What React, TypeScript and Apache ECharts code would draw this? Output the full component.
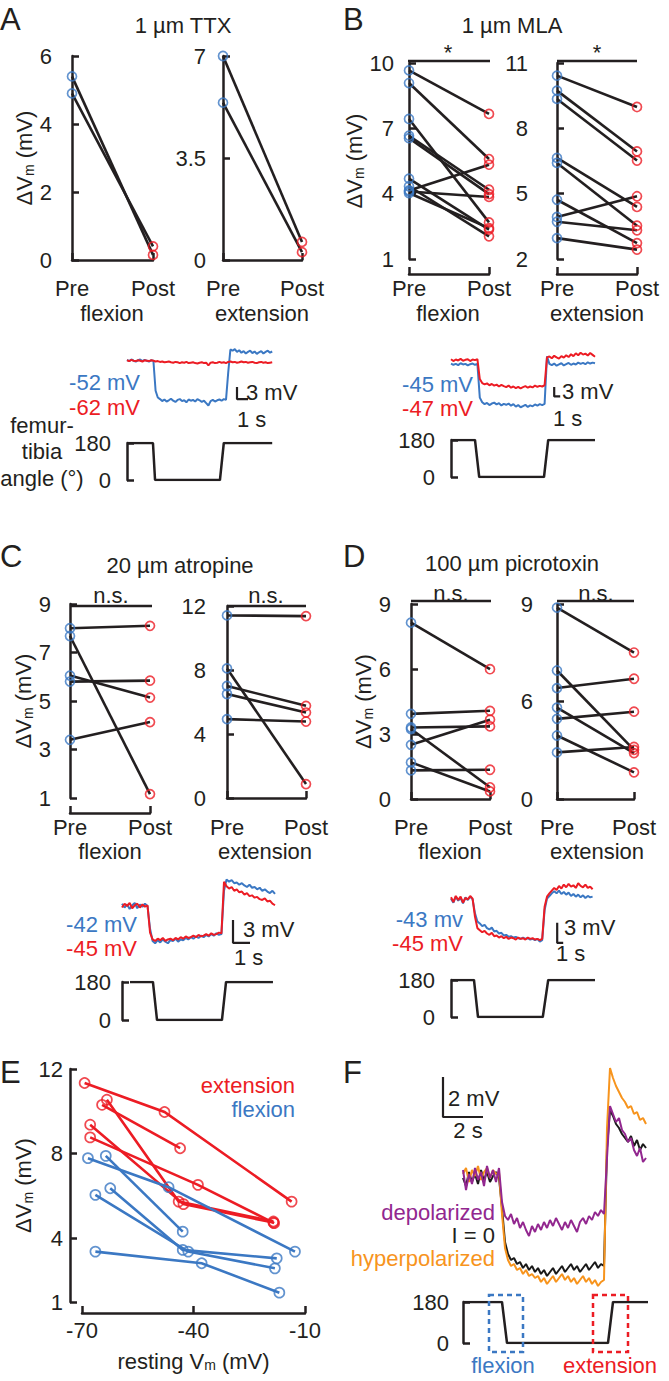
import React, { useEffect, useRef } from 'react';
import * as echarts from 'echarts';

const FONT = "'Liberation Sans', Arial, Helvetica, sans-serif";
const FS = 22;
const INK = '#231f20';
const BLUE = '#3b78c3';
const RED = '#ec1c24';
const PURPLE = '#92278f';
const ORANGE = '#f7941d';

// ---------- paired plots ----------
const pairCats = ['Pre', 'Post'];
// A: 1 µm TTX
const ttxFlexPre = [5.4, 4.9];
const ttxFlexPost = [0.15, 0.4];
const ttxExtPre = [7.0, 5.4];
const ttxExtPost = [0.62, 0.27];
// B: 1 µm MLA
const mlaFlexPre = [9.66, 9.08, 7.43, 6.66, 6.55, 4.69, 4.34, 4.15, 4.10, 4.03];
const mlaFlexPost = [7.66, 5.59, 2.68, 4.18, 3.98, 2.35, 2.04, 5.33, 3.85, 2.42];
const mlaExtPre = [10.42, 9.73, 9.35, 6.64, 6.41, 4.72, 3.93, 3.71, 2.96];
const mlaExtPost = [8.98, 6.94, 6.52, 4.39, 3.53, 2.73, 4.88, 3.32, 2.43];
// C: 20 µm atropine
const atrFlexPre = [8.0, 7.68, 6.05, 5.80, 3.40];
const atrFlexPost = [8.1, 1.16, 5.14, 5.84, 4.13];
const atrExtPre = [11.41, 8.1, 7.0, 6.5, 4.93];
const atrExtPost = [11.37, 0.87, 5.76, 5.34, 4.78];
// D: 100 µm picrotoxin
const picFlexPre = [8.14, 3.93, 3.30, 3.23, 2.5, 1.69, 1.32];
const picFlexPost = [5.99, 4.07, 3.35, 0.54, 3.66, 0.35, 1.35];
const picExtPre = [8.83, 5.93, 5.12, 4.22, 3.70, 2.93, 2.15];
const picExtPost = [6.76, 2.27, 5.55, 2.12, 4.03, 1.23, 2.40];
const picExtTicks = [0, 4.5, 9];
const picExtTickLabels = ['0', '6', '9'];

// ---------- voltage traces (mV relative to rest, sampled every dt s) ----------
const dtA = 0.2;
const ttxBlue = [0.2,-0.1,0.3,0.0,-0.2,0.1,0.3,-0.1,0.2,0.0,-0.2,0.1,0.0,
  -7.5,-9.2,
  -9.6,-10.1,-9.7,-10.2,-9.9,-9.5,-10.0,-10.3,-9.8,-9.6,-10.1,-9.9,-10.4,-9.7,-10.0,-9.8,-10.2,-9.6,-9.9,-10.3,-10.0,-10.6,-11.2,-10.1,-9.8,-10.2,-9.9,-9.7,-10.0,-9.6,-9.8,
  -3.0,2.8,
  2.5,2.9,2.2,2.6,2.0,2.4,1.8,2.2,2.5,1.9,2.3,1.7,2.1,2.4,1.8,2.2,2.5,2.0,2.3];
const ttxRed = [0.1,-0.1,0.2,0.0,-0.1,0.1,0.0,-0.2,0.1,0.0,-0.1,0.1,0.0,
  -0.2,-0.1,-0.3,-0.2,-0.4,-0.3,-0.2,-0.4,-0.5,-0.3,-0.4,-0.6,-0.4,-0.5,-0.3,-0.6,-0.5,-0.4,-0.6,-0.7,-0.5,-0.4,-0.6,-0.5,-1.2,-0.5,-0.4,-0.6,-0.5,-0.3,-0.5,-0.4,-0.6,
  -0.3,-0.2,-0.4,-0.3,-0.5,-0.4,-0.2,-0.4,-0.3,-0.5,-0.4,-0.3,-0.5,-0.6,-0.4,-0.3,-0.5,-0.4,-0.6,-0.5,-0.4];
const dtB = 0.4;
const mlaRed = [0.9,0.3,0.8,0.5,1.0,0.4,0.7,0.9,0.3,0.8,0.6,0.9,
  -5.5,
  -6.8,-7.2,-6.9,-7.5,-7.1,-7.6,-7.3,-7.9,-7.4,-7.8,-8.1,-7.6,-8.3,-7.9,-8.4,-8.0,-8.5,-8.1,-7.8,-8.3,-7.9,-8.2,-7.6,-8.0,-7.7,-7.9,-7.5,
  1.5,
  1.8,1.2,2.0,1.5,1.1,1.9,1.4,2.2,1.6,2.5,1.9,2.8,2.2,3.0,2.4,2.7,2.1,2.9,2.3,1.7];
const mlaBlue = [-0.5,-0.9,-0.6,-1.0,-0.4,-0.8,-0.6,-1.1,-0.7,-0.5,-0.9,-0.6,
  -11.5,
  -13.0,-13.6,-13.2,-13.9,-13.4,-13.1,-13.7,-13.3,-14.0,-13.5,-13.8,-13.4,-14.1,-13.6,-14.4,-13.9,-14.6,-14.2,-13.8,-14.5,-14.0,-14.3,-13.7,-14.1,-13.6,-13.9,-13.5,
  1.8,
  -0.6,-1.0,-0.5,-1.2,-0.8,-0.4,-1.1,-0.7,-0.3,-0.9,-0.5,-0.8,-0.2,-0.6,-0.3,-0.7,-0.1,-0.5,-0.2,-0.4];
const dtC = 0.15;
const atrBlue = [0.3,-0.2,0.2,-0.4,0.1,0.4,-0.3,0.2,-0.1,0.3,0.0,
  -3.0,
  -4.6,-4.9,-4.5,-4.8,-4.4,-4.7,-4.9,-4.5,-4.6,-4.3,-4.7,-4.4,-4.5,-4.2,-4.4,-4.1,-4.3,-4.0,-4.2,-3.9,-4.1,-3.8,-4.0,-3.7,-3.9,-3.6,-3.8,-3.7,
  2.0,
  3.5,3.2,3.4,3.0,3.1,2.8,3.0,2.7,2.5,2.8,2.4,2.5,2.2,2.4,2.0,2.2,1.9,1.7,2.0,1.6];
const atrRed = [-0.2,0.3,0.0,0.4,-0.3,0.1,0.3,-0.2,0.2,-0.1,0.1,
  -3.5,
  -4.4,-4.6,-4.3,-4.5,-4.2,-4.6,-4.4,-4.3,-4.5,-4.2,-4.4,-4.1,-4.3,-4.0,-4.2,-4.1,-3.9,-4.1,-3.8,-4.0,-3.9,-3.7,-3.9,-3.6,-3.8,-3.7,-3.5,-3.6,
  3.2,
  2.6,2.3,2.5,2.0,2.2,1.8,1.9,1.5,1.7,1.3,1.4,1.1,1.2,0.9,0.8,1.0,0.6,0.7,0.3,0.1];
const dtD = 0.4;
const picRed = [0.4,-0.3,0.6,0.0,0.5,-0.4,0.3,0.1,0.6,0.2,
  -2.5,
  -4.2,-4.5,-4.8,-4.6,-5.0,-5.2,-4.9,-5.4,-5.3,-5.6,-5.4,-5.7,-5.5,-5.8,-5.6,-5.7,-5.9,-5.6,-5.8,-5.7,-5.9,-5.6,-5.8,-5.7,-5.9,-5.8,-6.0,-5.8,
  -1.0,
  0.5,1.0,1.4,1.8,1.5,2.1,1.7,2.3,1.9,2.4,2.0,2.2,1.8,2.5,2.1,1.9,2.3,1.8,2.0,1.6];
const picBlue = [0.2,-0.4,0.5,-0.1,0.3,-0.5,0.4,0.0,0.5,0.1,
  -2.0,
  -3.2,-3.5,-3.9,-3.7,-4.2,-4.4,-4.1,-4.7,-4.6,-5.0,-4.9,-5.3,-5.2,-5.5,-5.4,-5.6,-5.5,-5.7,-5.8,-5.6,-5.8,-5.7,-5.9,-5.8,-6.0,-5.8,-6.2,-6.0,
  -1.5,
  0.2,0.6,1.0,1.3,1.0,1.4,0.9,1.2,0.8,1.1,0.6,0.9,0.5,0.8,0.4,0.7,0.3,0.6,0.4,0.5];
const dtF = 0.15;
const fPurple = [0.4,-0.6,0.2,-0.3,0.5,-0.1,0.3,-0.4,0.6,0.0,0.4,-0.2,0.5,
  -1.2,
  -1.9,-2.1,-1.8,-2.3,-2.0,-2.5,-2.2,-2.6,-2.9,-2.4,-2.7,-2.3,-2.6,-2.2,-2.5,-2.1,-2.4,-2.0,-2.3,-2.6,-2.2,-2.5,-2.1,-2.4,-2.7,-2.2,-2.0,-2.3,-1.9,-2.1,-1.7,-1.9,-1.6,-1.8,
  1.0,
  3.6,3.2,2.8,3.0,2.4,2.2,1.8,2.0,1.4,1.1,1.5,0.8,1.0];
const fBlack = [0.0,-0.4,0.3,-0.2,0.2,-0.3,0.4,-0.1,0.3,-0.2,0.1,0.3,0.0,
  -1.5,
  -3.2,-3.8,-4.1,-4.0,-4.3,-4.2,-4.5,-4.3,-4.6,-4.4,-4.7,-4.5,-4.8,-4.6,-4.9,-4.7,-4.5,-4.8,-4.6,-4.4,-4.7,-4.5,-4.3,-4.6,-4.4,-4.7,-4.5,-4.3,-4.6,-4.4,-4.2,-4.5,-4.3,-4.4,
  1.5,
  3.4,3.1,2.7,2.5,2.2,2.0,1.8,2.1,1.6,1.9,1.4,1.7,1.5];
const fOrange = [0.2,0.5,-0.2,0.4,0.1,0.6,-0.1,0.3,0.5,0.0,0.4,0.2,0.3,
  -1.8,
  -3.5,-4.1,-4.4,-4.3,-4.6,-4.5,-4.8,-4.6,-4.9,-4.8,-5.0,-4.9,-5.2,-5.0,-5.3,-5.1,-4.9,-5.2,-5.0,-4.8,-5.1,-4.9,-5.2,-5.0,-5.3,-5.1,-4.9,-5.2,-5.0,-5.3,-5.1,-5.4,-5.2,-5.1,
  2.5,
  5.5,5.0,4.6,4.3,4.0,3.8,3.5,3.6,3.2,3.3,2.9,3.0,2.7];

// femur-tibia angle (s, degrees)
const angleA = [[0.1,180],[2.36,180],[2.55,0],[8.45,0],[8.8,180],[13.2,180]];
const angleB = [[0.2,180],[4.0,180],[4.7,0],[15.5,0],[16.2,180],[24,180]];
const angleC = [[0.47,180],[1.82,180],[2.06,0],[5.88,0],[6.12,180],[8.88,180]];
const angleD = [[0.2,180],[3.83,180],[4.5,0],[15.3,0],[16.2,180],[24,180]];
const angleF = [[0,180],[1.95,180],[2.2,0],[7.25,0],[7.5,180],[9.25,180]];
const angleTicks = ['0', '180'];

// ---------- E: ΔVm vs resting Vm ----------
const extRestVm = [[-69.3,-47.8,-13.6],[-64.6,-43.6],[-63.3,-44.0,-18.5],[-67.8,-42.7,-18.5],[-67.8,-38.8,-18.3]];
const extDeltaVm = [[11.34,9.97,5.74],[10.31,8.26],[10.55,5.74,4.80],[9.37,5.62,4.75],[8.77,6.53,4.72]];
const flexRestVm = [[-68.4,-46.7,-12.7],[-63.6,-42.9],[-62.4,-42.9,-17.6],[-66.4,-41.4,-18.1],[-66.4,-37.8,-16.9]];
const flexDeltaVm = [[7.79,6.42,3.38],[7.90,4.32],[6.37,3.46,3.06],[6.06,3.38,2.59],[3.38,2.83,1.44]];
const eYTicks = [1, 4, 8, 12];

function buildOption() {
  const grid: any[] = [];
  const xAxis: any[] = [];
  const yAxis: any[] = [];
  const series: any[] = [];
  const graphic: any[] = [];

  const axisLine = { show: true, lineStyle: { color: INK, width: 2.5 } };
  const tickIn = { show: true, inside: true, length: 7, lineStyle: { color: INK, width: 2.5 } };
  const lbl = { color: INK, fontSize: FS, fontFamily: FONT, showMinLabel: true, showMaxLabel: true };
  const rich = {
    a: { fontSize: FS, fontFamily: FONT, color: INK },
    s: { fontSize: 14, fontFamily: FONT, color: INK, verticalAlign: 'bottom' },
  };
  const vmName = '{a|ΔV}{s|m}{a| (mV)}';
  const nameStyle = { color: INK, fontSize: FS, fontFamily: FONT, rich };

  function addGrid(box: any, xa: any, ya: any) {
    const gi = grid.length;
    grid.push({ ...box, containLabel: false });
    xAxis.push({ gridIndex: gi, type: 'value', splitLine: { show: false }, ...xa });
    yAxis.push({ gridIndex: gi, type: 'value', splitLine: { show: false }, ...ya });
    return gi;
  }

  function pairPlot(o: any) {
    const yLabel: any = { ...lbl, margin: 6 };
    if (o.fmt) yLabel.formatter = o.fmt;
    const gi = addGrid(
      { left: o.left, top: o.top, width: o.width, height: o.height },
      { min: 0, max: 1, interval: 1, offset: o.xOffset, axisLine, axisTick: tickIn,
        axisLabel: { ...lbl, margin: 3, formatter: (v: number) => pairCats[Math.round(v)] } },
      { min: o.yMin, max: o.yMax, interval: o.yInterval, offset: o.yOffset, axisLine, axisTick: tickIn, axisLabel: yLabel,
        ...(o.yName ? { name: vmName, nameLocation: 'middle', nameRotate: 90, nameGap: o.nameGap, nameTextStyle: nameStyle } : {}) }
    );
    series.push({
      type: 'lines', coordinateSystem: 'cartesian2d', xAxisIndex: gi, yAxisIndex: gi, z: 2,
      lineStyle: { color: INK, width: 2.6, opacity: 1 },
      data: o.pre.map((p: number, i: number) => ({ coords: [[0, p], [1, o.post[i]]] })),
    });
    series.push({
      type: 'scatter', xAxisIndex: gi, yAxisIndex: gi, z: 3, symbol: 'circle', symbolSize: 9,
      itemStyle: { color: 'rgba(0,0,0,0)', borderColor: BLUE, borderWidth: 1.7 },
      data: o.pre.map((p: number) => [0, p]),
    });
    series.push({
      type: 'scatter', xAxisIndex: gi, yAxisIndex: gi, z: 3, symbol: 'circle', symbolSize: 9,
      itemStyle: { color: 'rgba(0,0,0,0)', borderColor: RED, borderWidth: 1.7 },
      data: o.post.map((p: number) => [1, p]),
    });
  }

  function tracePlot(o: any) {
    const gi = addGrid(
      { left: o.left, top: o.zeroY - o.vMax * o.pxV, width: (o.tMax - o.tMin) * o.pxS, height: (o.vMax - o.vMin) * o.pxV },
      { show: false, min: o.tMin, max: o.tMax },
      { show: false, min: o.vMin, max: o.vMax }
    );
    o.traces.forEach((tr: any) => {
      series.push({
        type: 'line', xAxisIndex: gi, yAxisIndex: gi, showSymbol: false, symbol: 'none', z: tr.z ?? 2,
        lineStyle: { color: tr.color, width: 2 },
        data: tr.values.map((v: number, i: number) => [i * o.dt, v]),
      });
    });
    series.push({
      type: 'line', xAxisIndex: gi, yAxisIndex: gi, showSymbol: false, symbol: 'none', z: 4,
      lineStyle: { color: INK, width: 2.2 },
      data: o.bar,
    });
  }

  function anglePlot(o: any) {
    const gi = addGrid(
      { left: o.left, top: o.top, width: o.tMax * o.pxS, height: o.height },
      { show: false, min: 0, max: o.tMax },
      { min: 0, max: 180, interval: 180, offset: o.offset, axisLine, axisTick: tickIn,
        axisLabel: { ...lbl, margin: 6, formatter: (v: number) => angleTicks[v === 0 ? 0 : 1] } }
    );
    series.push({
      type: 'line', xAxisIndex: gi, yAxisIndex: gi, showSymbol: false, symbol: 'none',
      lineStyle: { color: INK, width: 2.5 }, data: o.data,
    });
  }

  // ---- A ----
  pairPlot({ left: 72, top: 56, width: 81, height: 204, yMin: 0, yMax: 6, yInterval: 2, yOffset: 14, xOffset: 14,
    pre: ttxFlexPre, post: ttxFlexPost, yName: true, nameGap: 20 });
  pairPlot({ left: 223, top: 56, width: 79, height: 204, yMin: 0, yMax: 7, yInterval: 3.5, yOffset: 11, xOffset: 14,
    pre: ttxExtPre, post: ttxExtPost });
  tracePlot({ left: 127, zeroY: 360.7, pxS: 11, pxV: 4, tMin: 0, tMax: 13.2, vMin: -12, vMax: 3.5, dt: dtA,
    traces: [{ values: ttxBlue, color: BLUE }, { values: ttxRed, color: RED, z: 3 }],
    bar: [[10, -6.6], [10, -9.6], [11, -9.6]] });
  anglePlot({ left: 127, top: 443, height: 37, pxS: 11, tMax: 13.2, offset: 10, data: angleA });

  // ---- B ----
  pairPlot({ left: 409, top: 63, width: 80, height: 196, yMin: 1, yMax: 10, yInterval: 3, yOffset: 9, xOffset: 15,
    pre: mlaFlexPre, post: mlaFlexPost, yName: true, nameGap: 21 });
  pairPlot({ left: 557, top: 63, width: 80, height: 196, yMin: 2, yMax: 11, yInterval: 3, yOffset: 23, xOffset: 15,
    pre: mlaExtPre, post: mlaExtPost });
  tracePlot({ left: 451, zeroY: 362, pxS: 6, pxV: 3.1, tMin: 0, tMax: 24, vMin: -15.5, vMax: 4, dt: dtB,
    traces: [{ values: mlaBlue, color: BLUE }, { values: mlaRed, color: RED, z: 3 }],
    bar: [[17.2, -8.1], [17.2, -11.1], [18.2, -11.1]] });
  anglePlot({ left: 451, top: 440, height: 37, pxS: 6, tMax: 24, offset: 10, data: angleB });

  // ---- C ----
  pairPlot({ left: 70, top: 604, width: 80, height: 194, yMin: 1, yMax: 9, yInterval: 2, yOffset: 13, xOffset: 15,
    pre: atrFlexPre, post: atrFlexPost, yName: true, nameGap: 20 });
  pairPlot({ left: 227, top: 606, width: 79, height: 192, yMin: 0, yMax: 12, yInterval: 4, yOffset: 15, xOffset: 15,
    pre: atrExtPre, post: atrExtPost });
  tracePlot({ left: 122, zeroY: 906, pxS: 17, pxV: 7.6, tMin: 0, tMax: 9.1, vMin: -5.5, vMax: 4, dt: dtC,
    traces: [{ values: atrBlue, color: BLUE }, { values: atrRed, color: RED, z: 3 }],
    bar: [[6.53, -1.84], [6.53, -4.84], [7.53, -4.84]] });
  anglePlot({ left: 122, top: 982, height: 38, pxS: 17, tMax: 9.1, offset: 5, data: angleC });

  // ---- D ----
  pairPlot({ left: 411, top: 604, width: 79, height: 195, yMin: 0, yMax: 9, yInterval: 3, yOffset: 14, xOffset: 14,
    pre: picFlexPre, post: picFlexPost, yName: true, nameGap: 14 });
  pairPlot({ left: 557, top: 604, width: 77, height: 195, yMin: 0, yMax: 9, yInterval: 4.5, yOffset: 18, xOffset: 14,
    pre: picExtPre, post: picExtPost,
    fmt: (v: number) => picExtTickLabels[picExtTicks.indexOf(v)] ?? '' });
  tracePlot({ left: 451, zeroY: 900, pxS: 6, pxV: 6.7, tMin: 0, tMax: 23.6, vMin: -7, vMax: 3, dt: dtD,
    traces: [{ values: picBlue, color: BLUE }, { values: picRed, color: RED, z: 3 }],
    bar: [[17.7, -3.4], [17.7, -6.4], [18.7, -6.4]] });
  anglePlot({ left: 451, top: 980, height: 37, pxS: 6, tMax: 24, offset: 10, data: angleD });

  // ---- E ----
  const ge = addGrid(
    { left: 82, top: 1069, width: 223, height: 233 },
    { min: -70, max: -10, interval: 30, offset: 11, axisLine, axisTick: tickIn, axisLabel: { ...lbl, margin: 6 },
      name: 'resting V{s|m} (mV)', nameLocation: 'middle', nameGap: 37, nameTextStyle: nameStyle },
    { min: 1, max: 12, offset: 12, axisLine,
      axisTick: { ...tickIn, customValues: eYTicks },
      axisLabel: { ...lbl, margin: 7, customValues: eYTicks },
      name: vmName, nameLocation: 'middle', nameRotate: 90, nameGap: 32, nameTextStyle: nameStyle }
  );
  const ePairs = [
    { rest: extRestVm, dv: extDeltaVm, color: RED },
    { rest: flexRestVm, dv: flexDeltaVm, color: BLUE },
  ];
  ePairs.forEach((p) => {
    series.push({
      type: 'lines', coordinateSystem: 'cartesian2d', polyline: true, xAxisIndex: ge, yAxisIndex: ge, z: 2,
      lineStyle: { color: p.color, width: 2.6, opacity: 1 },
      data: p.rest.map((xs, i) => ({ coords: xs.map((x, j) => [x, p.dv[i][j]]) })),
    });
    series.push({
      type: 'scatter', xAxisIndex: ge, yAxisIndex: ge, z: 3, symbol: 'circle', symbolSize: 10,
      itemStyle: { color: 'rgba(0,0,0,0)', borderColor: p.color, borderWidth: 1.7 },
      data: p.rest.flatMap((xs, i) => xs.map((x, j) => [x, p.dv[i][j]])),
    });
  });

  // ---- F ----
  tracePlot({ left: 443, zeroY: 1178, pxS: 20, pxV: 20, tMin: -1, tMax: 9.15, vMin: -5.8, vMax: 5.8, dt: dtF,
    traces: [{ values: fBlack, color: '#1a1a1a' }, { values: fOrange, color: ORANGE, z: 3 }, { values: fPurple, color: PURPLE, z: 3 }],
    bar: [[-1, 5.05], [-1, 3.05], [1, 3.05]] });
  anglePlot({ left: 463, top: 1302, height: 41, pxS: 20, tMax: 9.25, offset: 8, data: angleF });

  // ---- texts & annotations ----
  const txt = (x: number, y: number, text: string, fill = INK, align = 'left', size = FS) => ({
    type: 'text', x, y, z: 100,
    style: { text, fill, font: `${size}px ${FONT}`, align, verticalAlign: 'middle', textAlign: align, textVerticalAlign: 'middle' },
  });
  const hline = (x1: number, x2: number, y: number) => ({
    type: 'line', z: 100, shape: { x1, y1: y, x2, y2: y }, style: { stroke: INK, lineWidth: 2.5 },
  });
  const dashBox = (x: number, y: number, w: number, h: number, c: string) => ({
    type: 'rect', z: 100, shape: { x, y, width: w, height: h },
    style: { fill: 'none', stroke: c, lineWidth: 2.5, lineDash: [5, 4] },
  });

  graphic.push(
    txt(0, 19, 'A', INK, 'left', 31), txt(343, 19, 'B', INK, 'left', 31),
    txt(0, 556, 'C', INK, 'left', 31), txt(343, 556, 'D', INK, 'left', 31),
    txt(0, 1072, 'E', INK, 'left', 31), txt(343, 1072, 'F', INK, 'left', 31),
    txt(183, 25, '1 µm TTX', INK, 'center'), txt(512, 25, '1 µm MLA', INK, 'center'),
    txt(180, 565, '20 µm atropine', INK, 'center'), txt(512, 563, '100 µm picrotoxin', INK, 'center'),
    // significance
    hline(408, 490, 61), hline(557, 637, 61), txt(448, 52, '*', INK, 'center'), txt(597, 52, '*', INK, 'center'),
    hline(70, 152, 606), hline(227, 306, 606), txt(111, 595, 'n.s.', INK, 'center'), txt(266, 595, 'n.s.', INK, 'center'),
    hline(411, 491, 601), hline(557, 634, 601), txt(451, 593, 'n.s.', INK, 'center'), txt(596, 593, 'n.s.', INK, 'center'),
    // pair group labels
    txt(112, 313, 'flexion', INK, 'center'), txt(262, 313, 'extension', INK, 'center'),
    txt(448, 313, 'flexion', INK, 'center'), txt(597, 313, 'extension', INK, 'center'),
    txt(110, 851, 'flexion', INK, 'center'), txt(265, 851, 'extension', INK, 'center'),
    txt(450, 851, 'flexion', INK, 'center'), txt(597, 851, 'extension', INK, 'center'),
    // trace labels
    txt(140, 382, '-52 mV', BLUE, 'right'), txt(140, 407, '-62 mV', RED, 'right'),
    txt(246, 392, '3 mV'), txt(237, 419, '1 s'),
    txt(473, 384, '-45 mV', BLUE, 'right'), txt(473, 408, '-47 mV', RED, 'right'),
    txt(562, 391, '3 mV'), txt(553, 418, '1 s'),
    txt(137, 924, '-42 mV', BLUE, 'right'), txt(137, 948, '-45 mV', RED, 'right'),
    txt(243, 929, '3 mV'), txt(234, 957, '1 s'),
    txt(463, 919, '-43 mv', BLUE, 'right'), txt(463, 943, '-45 mV', RED, 'right'),
    txt(564, 927, '3 mV'), txt(556, 953, '1 s'),
    txt(42, 425, 'femur-', INK, 'center'), txt(42, 451, 'tibia', INK, 'center'), txt(42, 478, 'angle (°)', INK, 'center'),
    // E legend
    txt(295, 1085, 'extension', RED, 'right'), txt(295, 1109, 'flexion', BLUE, 'right'),
    // F
    txt(448, 1098, '2 mV'), txt(468, 1130, '2 s', INK, 'center'),
    txt(495, 1212, 'depolarized', PURPLE, 'right'), txt(495, 1235, 'I = 0', INK, 'right'),
    txt(495, 1258, 'hyperpolarized', ORANGE, 'right'),
    dashBox(489, 1295, 34, 57, BLUE), dashBox(593, 1295, 35, 57, RED),
    txt(503, 1365, 'flexion', BLUE, 'center'), txt(610, 1365, 'extension', RED, 'center'),
  );

  return { animation: false, backgroundColor: '#ffffff', grid, xAxis, yAxis, series, graphic };
}

export default function App() {
  const ref = useRef<HTMLDivElement>(null);
  useEffect(() => {
    const chart = echarts.init(ref.current as HTMLDivElement, null, { renderer: 'svg' });
    chart.setOption(buildOption() as any);
    return () => chart.dispose();
  }, []);
  return <div ref={ref} style={{ position: 'absolute', left: 0, top: 0, width: 669, height: 1381, background: '#fff' }} />;
}
